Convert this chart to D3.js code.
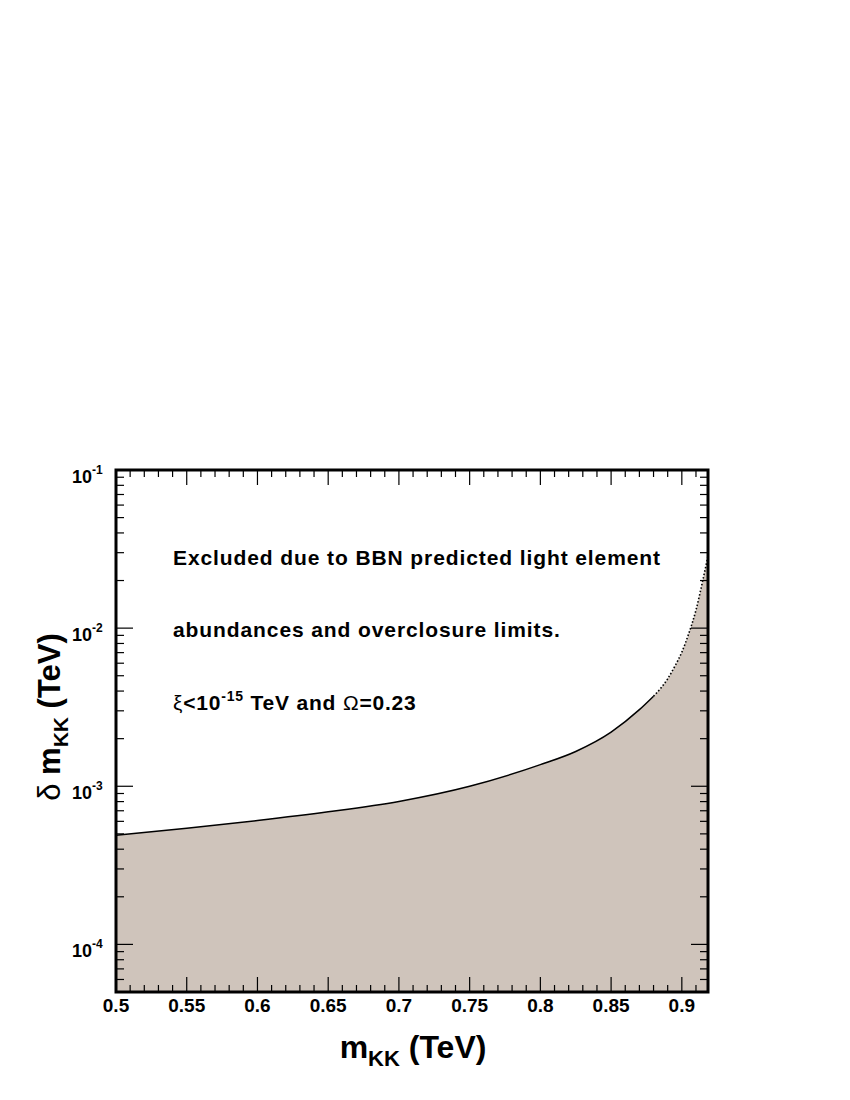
<!DOCTYPE html>
<html><head><meta charset="utf-8">
<script src="https://cdn.jsdelivr.net/npm/d3@7"></script>
<style>body{margin:0;background:#fff}svg text{font-family:"Liberation Sans",Arial,Helvetica,sans-serif;font-weight:bold}</style>
</head><body>
<script>
const mKK = [0.5,0.55,0.6,0.65,0.7,0.75,0.8,0.825,0.85,0.87,0.88,0.89,0.895,0.9,0.905,0.91,0.915,0.9185];
const deltaM = [4.9e-4,5.43e-4,6.07e-4,6.89e-4,8.02e-4,1.0e-3,1.37e-3,1.66e-3,2.2e-3,3.05e-3,3.71e-3,4.78e-3,5.73e-3,7.05e-3,9.3e-3,1.3e-2,2.04e-2,2.86e-2];
const xTicks = [0.5,0.55,0.6,0.65,0.7,0.75,0.8,0.85,0.9];
const xTickLabels = ["0.5","0.55","0.6","0.65","0.7","0.75","0.8","0.85","0.9"];
const yTicks = [1e-4,1e-3,1e-2,1e-1];
const yTickExps = ["-4","-3","-2","-1"];
const textLines = ["Excluded due to BBN predicted light element","abundances and overclosure limits."];

const W=850,H=1100;
const L=116,R=708,T=470,B=992;
const svg=d3.select("body").append("svg").attr("width",W).attr("height",H);
const x=d3.scaleLinear().domain([0.5,0.9185]).range([L,R]);
const y=d3.scaleLog().domain([5e-5,0.1]).range([B,T]);
const data=mKK.map((d,i)=>({x:d,y:deltaM[i]}));

svg.append("clipPath").attr("id","clip").append("rect").attr("x",L).attr("y",T).attr("width",R-L).attr("height",B-T);
const g=svg.append("g").attr("clip-path","url(#clip)");
const area=d3.area().x(d=>x(d.x)).y0(B).y1(d=>y(d.y)).curve(d3.curveMonotoneX);
g.append("path").datum(data).attr("d",area).attr("fill","#cfc4bb");
const line=d3.line().x(d=>x(d.x)).y(d=>y(d.y)).curve(d3.curveMonotoneX);
g.append("path").datum(data.filter(d=>d.x<=0.88)).attr("d",line).attr("fill","none").attr("stroke","#000").attr("stroke-width",1.5);
g.append("path").datum(data.filter(d=>d.x>=0.88)).attr("d",line).attr("fill","none").attr("stroke","#000").attr("stroke-width",1.6).attr("stroke-dasharray","1.5,2");

// ticks
const tg=svg.append("g").attr("stroke","#000").attr("stroke-width",1.2);
const xMinor=d3.range(50,92).map(v=>v/100);
xMinor.forEach(v=>{
  const major=Math.abs(v*20-Math.round(v*20))<1e-6;
  const len=major?15:7;
  tg.append("line").attr("x1",x(v)).attr("x2",x(v)).attr("y1",B).attr("y2",B-len);
  tg.append("line").attr("x1",x(v)).attr("x2",x(v)).attr("y1",T).attr("y2",T+len);
});
const yMinor=[];
[-5,-4,-3,-2].forEach(e=>{for(let k=1;k<=9;k++){const v=k*Math.pow(10,e);if(v>=5e-5&&v<=0.1)yMinor.push({v,major:k===1});}});
yMinor.push({v:0.1,major:true});
yMinor.forEach(o=>{
  const len=o.major?17:8;
  tg.append("line").attr("x1",L).attr("x2",L+len).attr("y1",y(o.v)).attr("y2",y(o.v));
  tg.append("line").attr("x1",R).attr("x2",R-len).attr("y1",y(o.v)).attr("y2",y(o.v));
});
svg.append("rect").attr("x",L).attr("y",T).attr("width",R-L).attr("height",B-T).attr("fill","none").attr("stroke","#000").attr("stroke-width",3);

// x tick labels
xTicks.forEach((v,i)=>{
  svg.append("text").attr("x",x(v)).attr("y",1012).attr("text-anchor","middle").attr("font-size",19).text(xTickLabels[i]);
});
// y tick labels
yTicks.forEach((v,i)=>{
  const t=svg.append("text").attr("x",72).attr("y",y(v)+13).attr("text-anchor","start").attr("font-size",18);
  t.append("tspan").text("10");
  t.append("tspan").attr("font-size",12).attr("dy",-9).text(yTickExps[i]);
});

// axis titles
const xt=svg.append("text").attr("x",413).attr("y",1058).attr("text-anchor","middle").attr("font-size",32);
xt.append("tspan").text("m");
xt.append("tspan").attr("font-size",22).attr("dy",8).text("KK");
xt.append("tspan").attr("dy",-8).text(" (TeV)");

const yt=svg.append("text").attr("transform","translate(60,717) rotate(-90)").attr("text-anchor","middle").attr("font-size",31);
yt.append("tspan").attr("font-weight","normal").text("δ ");
yt.append("tspan").text("m");
yt.append("tspan").attr("font-size",21).attr("dy",8).text("KK");
yt.append("tspan").attr("dy",-8).text(" (TeV)");

// annotations
svg.append("text").attr("x",173).attr("y",565).attr("font-size",21).attr("letter-spacing",0.9).text(textLines[0]);
svg.append("text").attr("x",173).attr("y",637).attr("font-size",21).attr("letter-spacing",0.9).text(textLines[1]);
const a3=svg.append("text").attr("x",173).attr("y",710).attr("font-size",21).attr("letter-spacing",0.8);
a3.append("tspan").attr("font-weight","normal").text("ξ");
a3.append("tspan").text("<10");
a3.append("tspan").attr("font-size",14).attr("dy",-9).text("-15");
a3.append("tspan").attr("dy",9).text(" TeV and ");
a3.append("tspan").attr("font-weight","normal").text("Ω");
a3.append("tspan").text("=0.23");
</script>
</body></html>
